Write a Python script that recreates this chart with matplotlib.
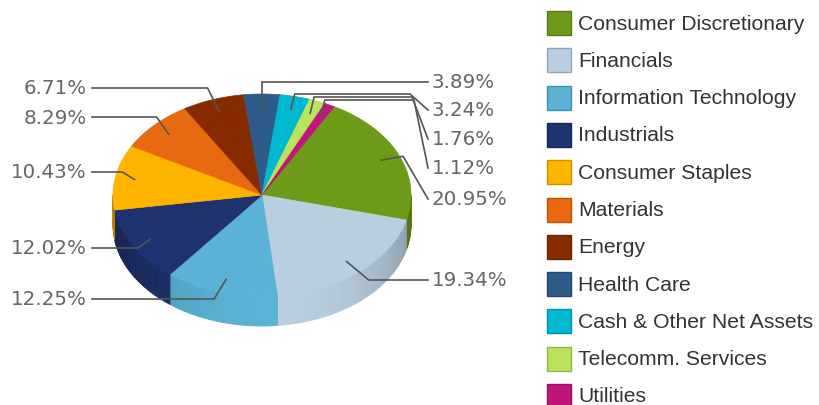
"""Sector allocation pie (pseudo-3D) with leader labels and a legend on the right"""
import numpy as np
import matplotlib
matplotlib.use('Agg')
import matplotlib.pyplot as plt
import matplotlib.colors as mcolors
from matplotlib.patches import Polygon, Rectangle

sectors = ['Consumer Discretionary', 'Financials', 'Information Technology', 'Industrials',
           'Consumer Staples', 'Materials', 'Energy', 'Health Care',
           'Cash & Other Net Assets', 'Telecomm. Services', 'Utilities']
weights = [20.95, 19.34, 12.25, 12.02, 10.43, 8.29, 6.71, 3.89, 3.24, 1.76, 1.12]
colors = ['#6e9a1a', '#b9cfe0', '#5ab3d6', '#1f3270', '#ffb400', '#e8690f',
          '#862a00', '#2d5b8a', '#00b8cf', '#b8e35a', '#c0157a']

# label layout (pixel coords of the 820x406 canvas)
label_side = ['R', 'R', 'L', 'L', 'L', 'L', 'L', 'R', 'R', 'R', 'R']
label_y = [200, 281, 300, 249, 173, 118, 89, 83, 111, 140, 169]

cx, cy, rx, ry, depth = 262, 196, 149, 101, 30
start = 61.0
w = np.array(weights)
cum = np.cumsum(w)
a_start = start - 360 * (cum - w) / w.sum()
a_end = start - 360 * cum / w.sum()


def pt(t, r=1.0, dz=0.0):
    t = np.radians(t)
    return cx + r * rx * np.cos(t), cy - r * ry * np.sin(t) + dz


fig = plt.figure(figsize=(8.2, 4.06), dpi=100)
ax = fig.add_axes([0, 0, 1, 1])
ax.set_xlim(0, 820)
ax.set_ylim(406, 0)
ax.axis('off')

# side walls (front half only)
for i in range(len(w)):
    lo, hi = max(a_end[i], -180), min(a_start[i], 0)
    if lo >= hi:
        continue
    base = np.array(mcolors.to_rgb(colors[i]))
    ts = np.linspace(lo, hi, max(2, int((hi - lo) / 1.5) + 2))
    for t0, t1 in zip(ts[:-1], ts[1:]):
        tm = np.radians((t0 + t1) / 2)
        shade = 0.72 + 0.28 * max(0.0, np.cos(tm + np.radians(85))) ** 1.3
        c = np.clip(base * shade, 0, 1)
        p = [pt(t0), pt(t1), pt(t1, dz=depth), pt(t0, dz=depth)]
        ax.add_patch(Polygon(p, closed=True, fc=c, ec=c, lw=0.6))

# top face
for i in range(len(w)):
    ts = np.linspace(a_start[i], a_end[i], 80)
    p = [(cx, cy)] + [pt(t) for t in ts]
    ax.add_patch(Polygon(p, closed=True, fc=colors[i], ec=colors[i], lw=0.5))

# leader lines + percentage labels
lc = '#555555'
for i in range(len(w)):
    mid = (a_start[i] + a_end[i]) / 2
    x0, y0 = pt(mid, r=0.87)
    ly = label_y[i]
    if label_side[i] == 'L':
        xs = [x0, x0 - 12, 92]
        ys = [y0, ly, ly]
        ax.text(87, ly, f'{weights[i]:.2f}%', ha='right', va='center',
                fontsize=14.3, color='#666666')
    else:
        if sectors[i] == 'Health Care':
            xs, ys = [x0, x0, 428], [y0, ly, ly]
        elif y0 < 125:
            hy = 95 + (i - 8) * 3
            hx = 410 + (i - 8) * 2
            xs, ys = [x0, x0 + 4, hx, 428], [y0, hy, hy, ly]
        elif ly - y0 > 25:
            xs, ys = [x0, x0 + 22, 428], [y0, y0 - 4, ly]
        else:
            xs, ys = [x0, x0 + 22, 428], [y0, ly, ly]
        ax.text(432, ly, f'{weights[i]:.2f}%', ha='left', va='center',
                fontsize=14.3, color='#666666')
    ax.plot(xs, ys, color=lc, lw=1.2, solid_joinstyle='miter')

# legend
for i, name in enumerate(sectors):
    y = 12 + i * 37.3
    base = np.array(mcolors.to_rgb(colors[i]))
    ax.add_patch(Rectangle((547, y), 24, 24, fc=colors[i], ec=np.clip(base * 0.8, 0, 1), lw=1))
    ax.text(578, y + 12, name, ha='left', va='center', fontsize=15.2,
            family='Liberation Sans', color='#333333')

fig.savefig('out.png', dpi=100)
plt.close(fig)
